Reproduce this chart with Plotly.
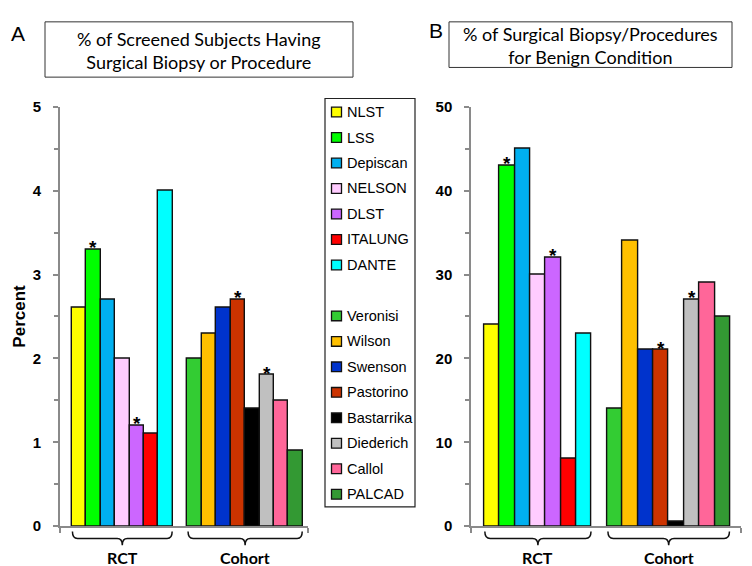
import plotly.graph_objects as go

# ---------------- data ----------------
rct_names = ["NLST", "LSS", "Depiscan", "NELSON", "DLST", "ITALUNG", "DANTE"]
cohort_names = ["Veronisi", "Wilson", "Swenson", "Pastorino", "Bastarrika",
                "Diederich", "Callol", "PALCAD"]
rct_colors = ["#FFFF00", "#00FF00", "#00B0F0", "#FFCCFF", "#CC66FF", "#FF0000", "#00FFFF"]
cohort_colors = ["#33CC33", "#FFC000", "#0033CC", "#CC3300", "#000000",
                 "#C0C0C0", "#FF6699", "#339933"]

pct_screened_rct = [2.6, 3.3, 2.7, 2.0, 1.2, 1.1, 4.0]
pct_screened_cohort = [2.0, 2.3, 2.6, 2.7, 1.4, 1.8, 1.5, 0.9]
pct_benign_rct = [24, 43, 45, 30, 32, 8, 23]
pct_benign_cohort = [14, 34, 21, 21, 0.5, 27, 29, 25]

starred = ["LSS", "DLST", "Pastorino", "Diederich"]
group_labels = ["RCT", "Cohort"]

ticks_a = [0, 1, 2, 3, 4, 5]
ticks_b = [0, 10, 20, 30, 40, 50]

title_a = "% of Screened Subjects Having<br>Surgical Biopsy or Procedure"
title_b = "% of Surgical Biopsy/Procedures<br>for Benign Condition"

# ---------------- helpers ----------------
W, H = 752, 566
def fx(p):
    return p / W
def fy(p):
    return 1 - p / H

names = rct_names + cohort_names
colors = rct_colors + cohort_colors
nr = len(rct_names)
pos = list(range(nr)) + [nr + 1 + i for i in range(len(cohort_names))]

AXC = "#8a8a8a"
SANS = "Liberation Sans, Arial"
TITLEF = "Lato, Open Sans, sans-serif"

fig = go.Figure()
fig.add_trace(go.Bar(x=pos, y=pct_screened_rct + pct_screened_cohort, width=1,
                     marker=dict(color=colors, line=dict(color="#111111", width=1.4)),
                     xaxis="x", yaxis="y", showlegend=False, hoverinfo="x+y"))
fig.add_trace(go.Bar(x=pos, y=pct_benign_rct + pct_benign_cohort, width=1,
                     marker=dict(color=colors, line=dict(color="#111111", width=1.4)),
                     xaxis="x2", yaxis="y2", showlegend=False, hoverinfo="x+y"))

annotations = []
shapes = []

# asterisks
for vals, xr, yr in [(pct_screened_rct + pct_screened_cohort, "x", "y"),
                     (pct_benign_rct + pct_benign_cohort, "x2", "y2")]:
    for n, p, v in zip(names, pos, vals):
        if n in starred:
            annotations.append(dict(x=p, y=v, xref=xr, yref=yr, text="*", showarrow=False,
                                    yanchor="middle", yshift=2,
                                    font=dict(family=SANS, size=19, color="black", weight="bold")))

# brackets + group labels
groups = [(pos[0], pos[nr - 1]), (pos[nr], pos[-1])]
y_top, y_h, y_bot, y_lab = fy(530.5), fy(537.7), fy(544.5), fy(557)
for xr in ["x", "x2"]:
    for (a, b), lab in zip(groups, group_labels):
        x0, x1 = a - 0.45, b + 0.45
        xc = (a + b) / 2
        r = 0.35
        path = (f"M {x0},{y_top} Q {x0},{y_h} {x0 + r},{y_h} L {xc - r},{y_h} "
                f"Q {xc},{y_h} {xc},{y_bot} Q {xc},{y_h} {xc + r},{y_h} "
                f"L {x1 - r},{y_h} Q {x1},{y_h} {x1},{y_top}")
        shapes.append(dict(type="path", path=path, xref=xr, yref="paper",
                           line=dict(color="#111111", width=1.5)))
        annotations.append(dict(x=xc, y=y_lab, xref=xr, yref="paper", text=lab,
                                showarrow=False, xanchor="center", yanchor="middle",
                                font=dict(family=TITLEF, size=16, color="black", weight="bold")))

# title boxes
for (l, t, r_, b), txt, letter, (lx, ly) in [((37, 5, 345, 62), title_a, "A", (10, 17)),
                                              ((441, 5, 724, 52), title_b, "B", (428, 14))]:
    shapes.append(dict(type="rect", xref="paper", yref="paper", x0=fx(l), x1=fx(r_),
                       y0=fy(b), y1=fy(t), line=dict(color="#333333", width=1)))
    annotations.append(dict(x=fx((l + r_) / 2), y=fy((t + b) / 2 + 1), xref="paper", yref="paper",
                            text=txt, showarrow=False, align="center",
                            xanchor="center", yanchor="middle",
                            font=dict(family=TITLEF, size=18, color="black")))
    annotations.append(dict(x=fx(lx), y=fy(ly), xref="paper", yref="paper", text=letter,
                            showarrow=False, xanchor="center", yanchor="middle",
                            font=dict(family=SANS, size=21, color="black")))

# legend (built from names/colors)
lg_l, lg_t, lg_r, lg_b = 317, 84, 407, 505
shapes.append(dict(type="rect", xref="paper", yref="paper", x0=fx(lg_l), x1=fx(lg_r),
                   y0=fy(lg_b), y1=fy(lg_t), line=dict(color="#222222", width=1.2)))
slots = list(range(nr)) + [nr + 1 + i for i in range(len(cohort_names))]
for n, c, s in zip(names, colors, slots):
    yc = 98 + s * 26.27
    shapes.append(dict(type="rect", xref="paper", yref="paper", x0=fx(323.5), x1=fx(333.5),
                       y0=fy(yc + 5), y1=fy(yc - 5), fillcolor=c,
                       line=dict(color="#111111", width=1.3)))
    annotations.append(dict(x=fx(336.5), y=fy(yc), xref="paper", yref="paper", text=n,
                            showarrow=False, xanchor="left", yanchor="middle",
                            font=dict(family=SANS, size=14.5, color="black")))

def yax(rng, tv, dt_minor, title=None):
    d = dict(domain=[fy(525), fy(92.5)], range=rng, tickvals=tv, ticktext=[str(v) for v in tv],
             ticks="outside", ticklen=5, tickwidth=1.5, tickcolor=AXC,
             minor=dict(dtick=dt_minor, ticks="outside", ticklen=4, tickwidth=1.5, tickcolor=AXC),
             showline=True, linecolor=AXC, linewidth=2, showgrid=False, zeroline=False,
             tickfont=dict(family=SANS, size=15, color="black", weight="bold"),
             ticklabelstandoff=9, fixedrange=True)
    if title:
        d["title"] = dict(text=title, standoff=3,
                          font=dict(family=SANS, size=17, color="black", weight="bold"))
    return d

def xax(dom, rng, anchor):
    return dict(domain=dom, range=rng, anchor=anchor, showline=True, linecolor=AXC, linewidth=2,
                tickvals=rng, ticks="outside", ticklen=5, tickwidth=1.5, tickcolor=AXC,
                showticklabels=False, showgrid=False, zeroline=False, fixedrange=True)

fig.update_layout(
    width=W, height=H, margin=dict(l=0, r=0, t=0, b=0),
    paper_bgcolor="white", plot_bgcolor="white", bargap=0,
    xaxis=xax([fx(52), fx(300)], [-1.31, 15.85], "y"),
    yaxis=yax([0, 5], ticks_a, 0.5, "Percent"),
    xaxis2=xax([fx(463.3), fx(733)], [-1.33, 16.2], "y2"),
    yaxis2=dict(yax([0, 50], ticks_b, 5), anchor="x2"),
    shapes=shapes, annotations=annotations, showlegend=False,
)
fig.write_html("out.html")
